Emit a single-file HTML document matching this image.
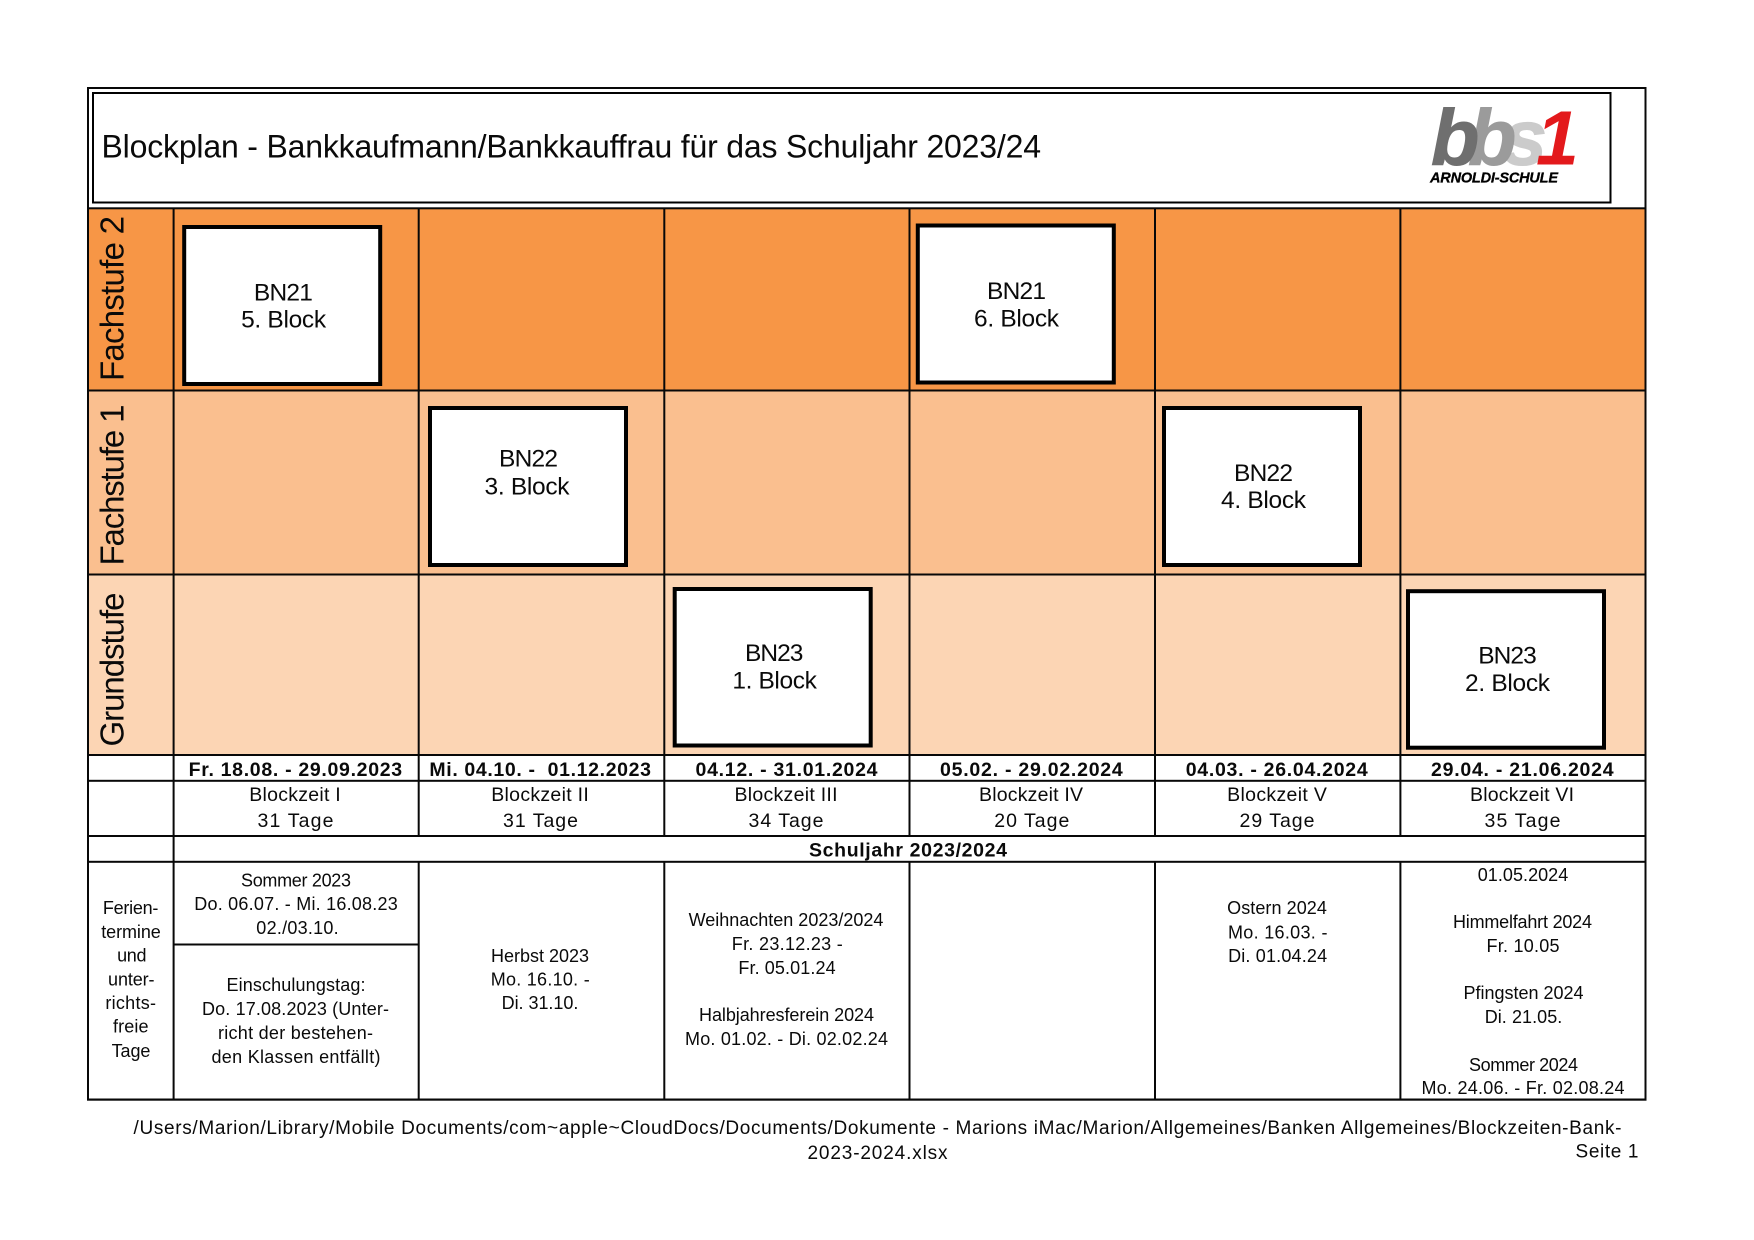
<!DOCTYPE html>
<html lang="de">
<head>
<meta charset="utf-8">
<title>Blockplan Bankkaufmann/Bankkauffrau 2023/24</title>
<style>
html,body{margin:0;padding:0;background:#fff;width:1754px;height:1240px;overflow:hidden}
svg{display:block;position:absolute;left:0;top:0}
text{font-family:"Liberation Sans",Arial,sans-serif;fill:#0a0a0a;text-anchor:middle}
.h{font-size:18px}
.m{font-size:19.5px}
.b{font-size:19.5px;font-weight:bold;white-space:pre}
.f{font-size:19px}
.k{font-size:24.5px}
.v{font-size:33px}
.l{font-weight:bold;font-style:italic;text-anchor:start}
.line{fill:#080808}
</style>
</head>
<body>
<svg width="1754" height="1240" viewBox="0 0 1754 1240" xmlns="http://www.w3.org/2000/svg">
<rect x="0" y="0" width="1754" height="1240" fill="#ffffff"/>

<g>
<rect x="88" y="208" width="1557" height="182" fill="#F79646"/>
<rect x="88" y="390" width="1557" height="185" fill="#FABF8F"/>
<rect x="88" y="575" width="1557" height="180" fill="#FCD5B4"/>
</g>

<g>
<rect class="line" x="87" y="87" width="2" height="1013.5"/>
<rect class="line" x="1644.5" y="87" width="2" height="1013.5"/>
<rect class="line" x="87" y="87" width="1559.5" height="2"/>
<rect class="line" x="87" y="1098.5" width="1559.5" height="2.2"/>
<rect class="line" x="87" y="207.3" width="1559" height="2"/>
<rect class="line" x="87" y="389.5" width="1559" height="2"/>
<rect class="line" x="87" y="573.5" width="1559" height="2"/>
<rect class="line" x="87" y="754" width="1559" height="2"/>
<rect class="line" x="87" y="779.8" width="1559" height="2"/>
<rect class="line" x="87" y="835" width="1559" height="2"/>
<rect class="line" x="87" y="860.8" width="1559" height="2"/>
<rect class="line" x="174" y="943.5" width="245" height="2"/>
<rect class="line" x="172.6" y="208" width="2" height="892"/>
<rect class="line" x="417.7" y="208" width="2" height="628"/>
<rect class="line" x="417.7" y="861" width="2" height="239"/>
<rect class="line" x="663.3" y="208" width="2" height="628"/>
<rect class="line" x="663.3" y="861" width="2" height="239"/>
<rect class="line" x="908.5" y="208" width="2" height="628"/>
<rect class="line" x="908.5" y="861" width="2" height="239"/>
<rect class="line" x="1154" y="208" width="2" height="628"/>
<rect class="line" x="1154" y="861" width="2" height="239"/>
<rect class="line" x="1399.4" y="208" width="2" height="628"/>
<rect class="line" x="1399.4" y="861" width="2" height="239"/>
</g>

<g>
<rect x="93" y="93" width="1517.5" height="109.5" fill="#fff" stroke="#000" stroke-width="2"/>
<text x="101.5" y="157.5" style="text-anchor:start;font-size:32px" textLength="939.5">Blockplan - Bankkaufmann/Bankkauffrau für das Schuljahr 2023/24</text>
<g>
<text class="l" x="1503" y="164.5" font-size="79" stroke="#cbcbcb" stroke-width="1" style="fill:#cbcbcb">s</text>
<text class="l" x="1468" y="164.5" font-size="79" stroke="#9b9b9b" stroke-width="1" style="fill:#9b9b9b">b</text>
<text class="l" x="1431" y="164.5" font-size="79" stroke="#6f6f6f" stroke-width="1" style="fill:#6f6f6f">b</text>
<text class="l" x="1536" y="164.5" font-size="77" style="fill:#e3191c">1</text>
<text class="l" x="1430" y="182.5" font-size="14.5" stroke="#000" stroke-width=".3" textLength="128" style="fill:#000">ARNOLDI-SCHULE</text>
</g>
</g>

<g>
<text class="v" transform="translate(123.3,381) rotate(-90)" style="text-anchor:start" textLength="165">Fachstufe 2</text>
<text class="v" transform="translate(123.3,565.5) rotate(-90)" style="text-anchor:start" textLength="161">Fachstufe 1</text>
<text class="v" transform="translate(123.3,746.5) rotate(-90)" style="text-anchor:start" textLength="154">Grundstufe</text>
</g>

<g>
<g>
<rect x="184.2" y="227" width="196" height="157" fill="#fff" stroke="#000" stroke-width="4"/>
<text class="k" x="283.4" y="300.7" textLength="59">BN21</text>
<text class="k" x="283.6" y="327.7" textLength="85">5. Block</text>
</g>
<g>
<rect x="917.8" y="225.5" width="196" height="157" fill="#fff" stroke="#000" stroke-width="4"/>
<text class="k" x="1016.5" y="298.8" textLength="59">BN21</text>
<text class="k" x="1016.5" y="326.3" textLength="85">6. Block</text>
</g>
<g>
<rect x="430" y="408" width="196" height="157" fill="#fff" stroke="#000" stroke-width="4"/>
<text class="k" x="528.5" y="466.6" textLength="59">BN22</text>
<text class="k" x="527" y="494.7" textLength="85">3. Block</text>
</g>
<g>
<rect x="1164" y="408" width="196" height="157" fill="#fff" stroke="#000" stroke-width="4"/>
<text class="k" x="1263.5" y="481" textLength="59">BN22</text>
<text class="k" x="1263.5" y="508" textLength="85">4. Block</text>
</g>
<g>
<rect x="674.7" y="589" width="196" height="156.5" fill="#fff" stroke="#000" stroke-width="4"/>
<text class="k" x="774.2" y="661" textLength="58.5">BN23</text>
<text class="k" x="774.6" y="688.6" textLength="84.5">1. Block</text>
</g>
<g>
<rect x="1408" y="591.2" width="196" height="156.5" fill="#fff" stroke="#000" stroke-width="4"/>
<text class="k" x="1507.5" y="663.3" textLength="58.5">BN23</text>
<text class="k" x="1507.5" y="691" textLength="85">2. Block</text>
</g>
</g>

<g>
<text class="b" x="295.4" y="776" textLength="213.5">Fr. 18.08. - 29.09.2023</text>
<text class="b" x="540.2" y="776" textLength="221.6">Mi. 04.10. -  01.12.2023</text>
<text class="b" x="786.5" y="776" textLength="182">04.12. - 31.01.2024</text>
<text class="b" x="1031.4" y="776" textLength="182.7">05.02. - 29.02.2024</text>
<text class="b" x="1276.7" y="776" textLength="182">04.03. - 26.04.2024</text>
<text class="b" x="1522.3" y="776" textLength="182.6">29.04. - 21.06.2024</text>
</g>

<g>
<text class="m" x="295" y="801" textLength="91.4">Blockzeit I</text>
<text class="m" x="295.5" y="827" textLength="76">31 Tage</text>
<text class="m" x="540" y="801" textLength="97.5">Blockzeit II</text>
<text class="m" x="540.5" y="827" textLength="75">31 Tage</text>
<text class="m" x="786" y="801" textLength="103">Blockzeit III</text>
<text class="m" x="786" y="827" textLength="75">34 Tage</text>
<text class="m" x="1031" y="801" textLength="104">Blockzeit IV</text>
<text class="m" x="1031.8" y="827" textLength="75">20 Tage</text>
<text class="m" x="1277" y="801" textLength="99.7">Blockzeit V</text>
<text class="m" x="1277" y="827" textLength="75">29 Tage</text>
<text class="m" x="1522" y="801" textLength="104">Blockzeit VI</text>
<text class="m" x="1522.5" y="827" textLength="76">35 Tage</text>
</g>

<text class="b" x="908" y="856.7" textLength="198">Schuljahr 2023/2024</text>

<g>
<text class="h" x="130.6" y="914" textLength="55.5">Ferien-</text>
<text class="h" x="131" y="938" textLength="59.5">termine</text>
<text class="h" x="131.8" y="961.7" textLength="29.4">und</text>
<text class="h" x="131.3" y="985.3" textLength="46.5">unter-</text>
<text class="h" x="130.7" y="1009" textLength="50.6">richts-</text>
<text class="h" x="130.8" y="1032.7" textLength="35.5">freie</text>
<text class="h" x="131" y="1057" textLength="38.8">Tage</text>
</g>

<g>
<text class="h" x="296" y="886.7" textLength="110">Sommer 2023</text>
<text class="h" x="296" y="910" textLength="203.5">Do. 06.07. - Mi. 16.08.23</text>
<text class="h" x="297.5" y="934" textLength="82.4">02./03.10.</text>
<text class="h" x="296" y="991" textLength="139">Einschulungstag:</text>
<text class="h" x="295.5" y="1015" textLength="187">Do. 17.08.2023 (Unter-</text>
<text class="h" x="295.5" y="1039" textLength="155">richt der bestehen-</text>
<text class="h" x="296" y="1063" textLength="169">den Klassen entfällt)</text>
</g>
<g>
<text class="h" x="540" y="962" textLength="98">Herbst 2023</text>
<text class="h" x="540.2" y="985.3" textLength="99">Mo. 16.10. -</text>
<text class="h" x="540" y="1009" textLength="76.7">Di. 31.10.</text>
</g>
<g>
<text class="h" x="786" y="926" textLength="194.7">Weihnachten 2023/2024</text>
<text class="h" x="787.3" y="950" textLength="111">Fr. 23.12.23 -</text>
<text class="h" x="787" y="974" textLength="97.3">Fr. 05.01.24</text>
<text class="h" x="786.5" y="1021" textLength="175">Halbjahresferein 2024</text>
<text class="h" x="786.5" y="1045" textLength="203">Mo. 01.02. - Di. 02.02.24</text>
</g>
<g>
<text class="h" x="1277" y="914" textLength="99.7">Ostern 2024</text>
<text class="h" x="1277.7" y="938.3" textLength="99.5">Mo. 16.03. -</text>
<text class="h" x="1277.6" y="962" textLength="99">Di. 01.04.24</text>
</g>
<g>
<text class="h" x="1523" y="881" textLength="90.5">01.05.2024</text>
<text class="h" x="1522.5" y="928" textLength="139">Himmelfahrt 2024</text>
<text class="h" x="1523" y="952" textLength="73">Fr. 10.05</text>
<text class="h" x="1523.5" y="999" textLength="120">Pfingsten 2024</text>
<text class="h" x="1523.5" y="1023" textLength="77.6">Di. 21.05.</text>
<text class="h" x="1523.5" y="1071" textLength="109">Sommer 2024</text>
<text class="h" x="1523" y="1094" textLength="203">Mo. 24.06. - Fr. 02.08.24</text>
</g>

<g>
<text class="f" x="133.5" y="1134" style="text-anchor:start" textLength="1488">/Users/Marion/Library/Mobile Documents/com~apple~CloudDocs/Documents/Dokumente - Marions iMac/Marion/Allgemeines/Banken Allgemeines/Blockzeiten-Bank-</text>
<text class="f" x="877.5" y="1159" textLength="140">2023-2024.xlsx</text>
<text class="f" x="1607" y="1157.7" textLength="63">Seite 1</text>
</g>
</svg>
</body>
</html>
